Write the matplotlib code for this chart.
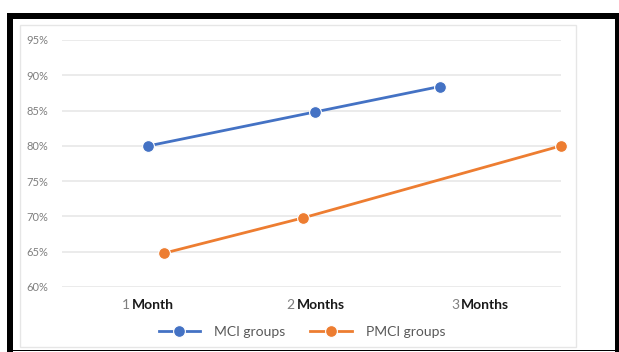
import matplotlib.pyplot as plt
from matplotlib.patches import Rectangle
from matplotlib.lines import Line2D

W, H = 619, 352

# chart data (x in category units, categories centred at 0.5 / 1.5 / 2.5)
categories = ["1", "2", "3"]
cat_words = ["Month", "Months", "Months"]
cat_pos = [0.42, 1.41, 2.40]
mci_x = [0.52, 1.52, 2.27]
mci_y = [80.0, 84.8, 88.4]
pmci_x = [0.615, 1.45, 3.0]
pmci_y = [64.8, 69.8, 80.0]
yticks = [60, 65, 70, 75, 80, 85, 90, 95]

BLUE = "#4472C4"
ORANGE = "#ED7D31"
plt.rcParams['font.family'] = ['Lato', 'DejaVu Sans']


def box(x0, y0, x1, y1):
    # pixel box (top-left origin) -> figure fraction rect
    return (x0 / W, 1 - y1 / H), (x1 - x0) / W, (y1 - y0) / H


fig = plt.figure(figsize=(W / 100, H / 100), dpi=100)

# outer black frame and inner light chart border
for x0, y0, x1, y1 in [(7, 13, 619, 19), (7, 13, 13, 352), (615, 13, 619, 352), (7, 349.5, 619, 351)]:
    xy, w, h = box(x0, y0, x1, y1)
    fig.add_artist(Rectangle(xy, w, h, transform=fig.transFigure, color="black", lw=0))
xy, w, h = box(20, 25, 576, 347)
fig.add_artist(Rectangle(xy, w, h, transform=fig.transFigure, fill=False, ec="#E6E6E6", lw=1))

l, b, r, t = 62, 287, 561, 40
ax = fig.add_axes([l / W, 1 - b / H, (r - l) / W, (b - t) / H])
ax.set_xlim(0, 3)
ax.set_ylim(60, 95)
for s in ax.spines.values():
    s.set_visible(False)
ax.set_yticks(yticks)
ax.set_yticklabels([f"{v}%" for v in yticks], color="#7F7F7F", fontsize=8)
ax.tick_params(axis="y", length=0, pad=10)
ax.set_xticks([])
ax.grid(axis="y", color="#E8E8E8", lw=1.2)
ax.set_axisbelow(True)

ax.plot(mci_x, mci_y, color=BLUE, lw=2, marker="o", ms=8.5, mec="white", mew=0.8,
        label="MCI groups", clip_on=False, zorder=3)
ax.plot(pmci_x, pmci_y, color=ORANGE, lw=2, marker="o", ms=8.5, mec="white", mew=0.8,
        label="PMCI groups", clip_on=False, zorder=3)

for x, n, word in zip(cat_pos, categories, cat_words):
    ax.annotate(n, (x, 60), xytext=(-1.5, -13), textcoords="offset points", ha="right",
                va="center", fontsize=10, color="#7F7F7F", annotation_clip=False)
    ax.annotate(word, (x, 60), xytext=(0, -13), textcoords="offset points", ha="left",
                va="center", fontsize=10, color="#1A1A1A", fontweight="bold",
                annotation_clip=False)

handles = [Line2D([], [], color=BLUE, lw=2, marker="o", ms=8.5, mec="white", mew=0.8),
           Line2D([], [], color=ORANGE, lw=2, marker="o", ms=8.5, mec="white", mew=0.8)]
fig.legend(handles, ["MCI groups", "PMCI groups"], loc="center", ncol=2,
           bbox_to_anchor=(302 / W, 1 - 332 / H), frameon=False, fontsize=10,
           labelcolor="#595959", handlelength=3, columnspacing=1.8, handletextpad=1.0)

fig.savefig("out.png", dpi=100)
